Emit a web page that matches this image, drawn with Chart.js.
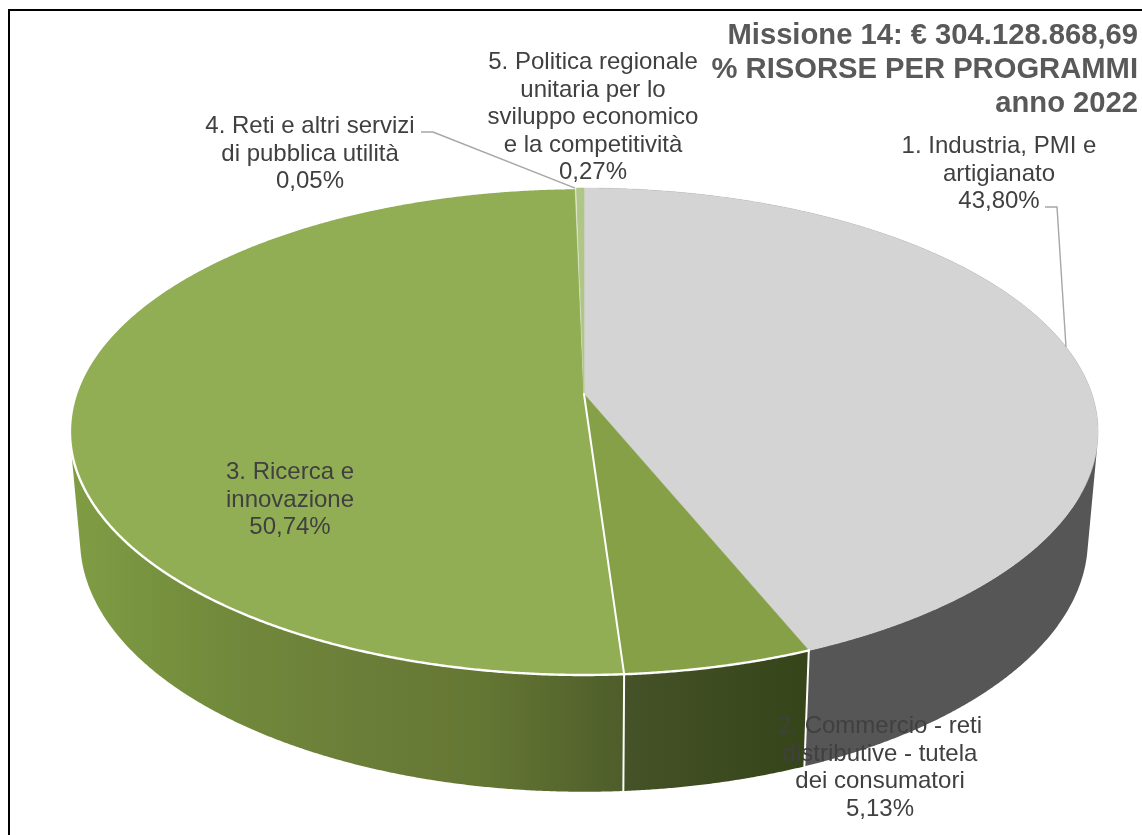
<!DOCTYPE html>
<html lang="it">
<head>
<meta charset="utf-8">
<title>Missione 14</title>
<script src="https://cdn.jsdelivr.net/npm/chart.js@4"></script>
<style>
  html, body { margin: 0; padding: 0; background: #fff; overflow: hidden; }
  #wrap { position: relative; width: 1142px; height: 835px; }
</style>
</head>
<body>
<div id="wrap"><canvas id="pie3d"></canvas></div>
<script>
// data
const categories = [
  ["1. Industria, PMI e", "artigianato"],
  ["2. Commercio - reti", "distributive - tutela", "dei consumatori"],
  ["3. Ricerca e", "innovazione"],
  ["4. Reti e altri servizi", "di pubblica utilità"],
  ["5. Politica regionale", "unitaria per lo", "sviluppo economico", "e la competitività"],
];
const percentages = [43.80, 5.13, 50.74, 0.05, 0.27];
const titleLines = ["Missione 14: € 304.128.868,69", "% RISORSE PER PROGRAMMI", "anno 2022"];

// top face colours
const topColors = ["#d4d4d4", "#86a047", "#92ae55", "#e4ecd2", "#afc686"];
// side wall gradients, stops left to right
const wallStops = [
  ["#565656", "#565656"],
  ["#465227", "#354419"],
  ["#809d44", "#728b3c", "#6c7f39", "#647633", "#4e5d2a"],
  ["#7d9a41", "#7d9a41"],
  ["#7d9a41", "#7d9a41"],
];
// where each label block goes: centre x, first baseline
const labelSpots = [
  [999, 153], [880, 733], [290, 479], [310, 133], [593, 69],
];
const LINE_H = 27.6;

// perspective of the disc, relative to the pie radius
const K = 0.154;
const RIM_TOP = { b: 1.924, a: 0.9004, dy: 0 };
const RIM_LOW = { b: 1.886, a: 0.932, dy: 0.405 };

function rimPoint(arc, angle, rim) {
  const u = Math.cos(angle), v = Math.sin(angle), w = 1 - K * v;
  const r = arc.outerRadius;
  return {
    x: arc.x + r * rim.b * u / w,
    y: arc.y + r * rim.dy + r * rim.a * v / w,
  };
}

function sweep(start, end) {
  const n = Math.max(2, Math.ceil((end - start) / 0.004));
  const out = [];
  for (let i = 0; i <= n; i++) out.push(start + (end - start) * i / n);
  return out;
}

function drawWall(ctx, arc, stops) {
  const angles = sweep(arc.startAngle, arc.endAngle);
  let minX = Infinity, maxX = -Infinity;
  ctx.beginPath();
  for (let i = 0; i < angles.length - 1; i++) {
    const q = [
      rimPoint(arc, angles[i], RIM_TOP),
      rimPoint(arc, angles[i + 1], RIM_TOP),
      rimPoint(arc, angles[i + 1], RIM_LOW),
      rimPoint(arc, angles[i], RIM_LOW),
    ];
    let area = 0;
    q.forEach((p, j) => {
      const n = q[(j + 1) % 4];
      area += p.x * n.y - n.x * p.y;
      minX = Math.min(minX, p.x);
      maxX = Math.max(maxX, p.x);
    });
    if (area < 0) q.reverse();
    ctx.moveTo(q[0].x, q[0].y);
    q.slice(1).forEach(p => ctx.lineTo(p.x, p.y));
    ctx.closePath();
  }
  const grad = ctx.createLinearGradient(minX, 0, maxX, 0);
  stops.forEach((c, i) => grad.addColorStop(i / (stops.length - 1), c));
  ctx.fillStyle = grad;
  ctx.fill();
}

function drawTop(ctx, arc, color) {
  ctx.beginPath();
  ctx.moveTo(arc.x, arc.y);
  sweep(arc.startAngle, arc.endAngle).forEach(a => {
    const p = rimPoint(arc, a, RIM_TOP);
    ctx.lineTo(p.x, p.y);
  });
  ctx.closePath();
  ctx.fillStyle = color;
  ctx.fill();
  ctx.strokeStyle = color;
  ctx.lineWidth = 0.6;
  ctx.stroke();
}

function strokeRim(ctx, arc) {
  ctx.beginPath();
  sweep(arc.startAngle, arc.endAngle).forEach((a, i) => {
    const p = rimPoint(arc, a, RIM_TOP);
    if (i === 0) ctx.moveTo(p.x, p.y); else ctx.lineTo(p.x, p.y);
  });
  ctx.stroke();
}

function strokeEdge(ctx, arc, angle) {
  const t = rimPoint(arc, angle, RIM_TOP), l = rimPoint(arc, angle, RIM_LOW);
  ctx.beginPath();
  ctx.moveTo(t.x, t.y);
  ctx.lineTo(l.x, l.y);
  ctx.stroke();
}

const pie3dPlugin = {
  id: "pie3d",
  beforeDatasetsDraw(chart) {
    const ctx = chart.ctx;
    const arcs = chart.getDatasetMeta(0).data;
    ctx.save();
    arcs.forEach((arc, i) => drawWall(ctx, arc, wallStops[i]));
    arcs.forEach((arc, i) => drawTop(ctx, arc, topColors[i]));

    // white seams on the green slices
    ctx.strokeStyle = "#fff";
    ctx.lineCap = "round";
    ctx.lineWidth = 2.4;
    strokeRim(ctx, arcs[1]);
    strokeRim(ctx, arcs[2]);
    ctx.lineWidth = 2;
    strokeEdge(ctx, arcs[1], arcs[1].startAngle);
    strokeEdge(ctx, arcs[2], arcs[2].startAngle);
    const seam = rimPoint(arcs[2], arcs[2].startAngle, RIM_TOP);
    ctx.beginPath();
    ctx.moveTo(arcs[2].x, arcs[2].y);
    ctx.lineTo(seam.x, seam.y);
    ctx.stroke();
    ctx.restore();
    return false; // the arcs above replace the flat ones
  },
  afterDraw(chart) {
    const ctx = chart.ctx;
    const arcs = chart.getDatasetMeta(0).data;
    ctx.save();

    // frame, runs off the right and bottom of the picture
    ctx.strokeStyle = "#000";
    ctx.lineWidth = 2;
    ctx.strokeRect(9, 10, 1300, 1000);

    // leader lines
    const end4 = rimPoint(arcs[3], arcs[3].startAngle, RIM_TOP);
    ctx.strokeStyle = "#a6a6a6";
    ctx.lineWidth = 1.4;
    ctx.beginPath();
    ctx.moveTo(421, 132);
    ctx.lineTo(433, 132);
    ctx.lineTo(end4.x, end4.y);
    ctx.moveTo(1045, 207);
    ctx.lineTo(1057, 207);
    ctx.lineTo(1066, 347);
    ctx.stroke();

    // slice labels
    ctx.font = '24px "Liberation Sans"';
    ctx.fillStyle = "#404040";
    ctx.textAlign = "center";
    ctx.textBaseline = "alphabetic";
    categories.forEach((lines, i) => {
      const [x, y] = labelSpots[i];
      const pct = percentages[i].toFixed(2).replace(".", ",") + "%";
      lines.concat(pct).forEach((t, j) => ctx.fillText(t, x, y + j * LINE_H));
    });

    // title
    ctx.font = 'bold 29.2px "Liberation Sans"';
    ctx.fillStyle = "#595959";
    ctx.textAlign = "right";
    titleLines.forEach((t, i) => ctx.fillText(t, 1138, 44 + i * 34));
    ctx.restore();
  },
};

new Chart(document.getElementById("pie3d"), {
  type: "pie",
  data: {
    labels: categories.map(c => c.join(" ")),
    datasets: [{ data: percentages, backgroundColor: topColors, borderWidth: 0 }],
  },
  options: {
    responsive: true,
    maintainAspectRatio: false,
    animation: false,
    events: [],
    layout: { padding: { left: 100, right: 74, top: 130, bottom: 177 } },
    plugins: { legend: { display: false }, tooltip: { enabled: false } },
  },
  plugins: [pie3dPlugin],
});
</script>
</body>
</html>
